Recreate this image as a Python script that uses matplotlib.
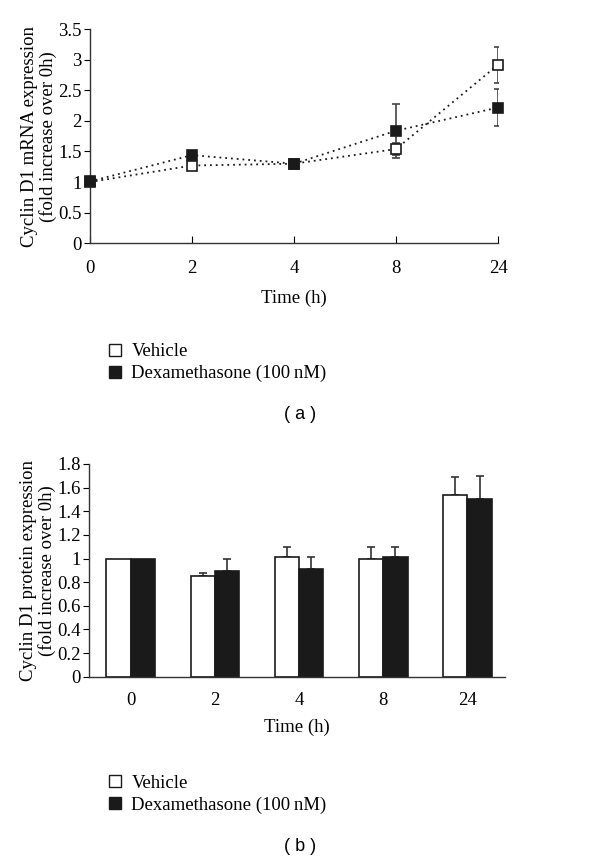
import numpy as np
import matplotlib
matplotlib.use("Agg")
import matplotlib.pyplot as plt
from matplotlib.lines import Line2D

# data
times = ["0", "2", "4", "8", "24"]

mrna_vehicle = [1.00, 1.27, 1.30, 1.54, 2.92]
mrna_vehicle_err = [0.0, 0.0, 0.0, 0.10, 0.30]
mrna_dex = [1.01, 1.44, 1.30, 1.84, 2.22]
mrna_dex_err = [0.0, 0.0, 0.0, 0.44, 0.30]

prot_vehicle = [1.00, 0.85, 1.01, 1.00, 1.535]
prot_vehicle_err = [0.0, 0.03, 0.09, 0.10, 0.155]
prot_dex = [1.00, 0.895, 0.915, 1.01, 1.50]
prot_dex_err = [0.0, 0.10, 0.095, 0.09, 0.20]

labels = ["Vehicle", "Dexamethasone (100\u2009nM)"]

plt.rcParams['font.family'] = ['Liberation Serif', 'DejaVu Serif']
plt.rcParams['font.size'] = 13.5

dark = '#1a1a1a'
fig = plt.figure(figsize=(6, 8.65), dpi=100)

# ---- (a) line plot
ax1 = fig.add_axes([0.15, 0.719, 0.68, 0.247])
x = np.arange(len(times))
for vals, errs, face in [(mrna_vehicle, mrna_vehicle_err, 'white'),
                         (mrna_dex, mrna_dex_err, dark)]:
    ax1.plot(x, vals, linestyle=(0, (1, 2.2)), color=dark, linewidth=1.3, zorder=2)
    e = np.array(errs)
    mask = e > 0
    ax1.errorbar(x[mask], np.array(vals)[mask], yerr=e[mask], fmt='none',
                 ecolor='#444444', elinewidth=1.2, capsize=3, capthick=1.2, zorder=3)
    ax1.plot(x, vals, linestyle='none', marker='s', markersize=7.5,
             markerfacecolor=face, markeredgecolor=dark, markeredgewidth=1.2,
             zorder=4, clip_on=False)

ax1.set_xlim(0, 4)
ax1.set_ylim(0, 3.5)
ax1.set_xticks(x)
ax1.set_xticklabels(times)
ax1.set_yticks(np.arange(0, 3.51, 0.5))
ax1.set_yticklabels(['0', '0.5', '1', '1.5', '2', '2.5', '3', '3.5'])
ax1.tick_params(axis='x', direction='in', length=5, pad=12)
ax1.tick_params(axis='y', direction='out', length=4, pad=2)
for s in ['top', 'right']:
    ax1.spines[s].set_visible(False)
for s in ['left', 'bottom']:
    ax1.spines[s].set_color('#333333')
    ax1.spines[s].set_linewidth(1.0)
ax1.set_xlabel('Time (h)', labelpad=9)
ax1.set_ylabel('Cyclin D1 mRNA expression\n(fold increase over 0h)', labelpad=1,
               linespacing=1.05)

handles = [Line2D([], [], linestyle='none', marker='s', markersize=8,
                  markerfacecolor='white', markeredgecolor=dark, markeredgewidth=1.0),
           Line2D([], [], linestyle='none', marker='s', markersize=8,
                  markerfacecolor=dark, markeredgecolor=dark, markeredgewidth=1.0)]
fig.legend(handles, labels, loc='upper left', bbox_to_anchor=(0.166, 0.612),
           frameon=False, handlelength=0.8, handletextpad=0.5, labelspacing=0.25,
           borderaxespad=0)
fig.text(0.5, 0.521, '( a )', ha='center', va='center', fontsize=13,
         family=['Liberation Sans', 'DejaVu Sans'])

# ---- (b) bar plot
ax2 = fig.add_axes([0.148, 0.2177, 0.694, 0.2459])
w = 0.29
ax2.bar(x - w / 2, prot_vehicle, width=w, color='white', edgecolor=dark,
        linewidth=1.2, zorder=2)
ax2.bar(x + w / 2, prot_dex, width=w, color=dark, edgecolor=dark,
        linewidth=1.2, zorder=2)
for off, vals, errs in [(-w / 2, prot_vehicle, prot_vehicle_err),
                        (w / 2, prot_dex, prot_dex_err)]:
    e = np.array(errs)
    mask = e > 0
    ax2.errorbar(x[mask] + off, np.array(vals)[mask],
                 yerr=[np.zeros(mask.sum()), e[mask]], fmt='none',
                 ecolor='#333333', elinewidth=1.2, capsize=3, capthick=1.2, zorder=1)

ax2.set_xlim(-0.5, 4.45)
ax2.set_ylim(0, 1.8)
ax2.set_xticks(x)
ax2.set_xticklabels(times)
ax2.set_yticks(np.arange(0, 1.81, 0.2))
ax2.set_yticklabels(['0', '0.2', '0.4', '0.6', '0.8', '1', '1.2', '1.4', '1.6', '1.8'])
ax2.tick_params(axis='x', length=0, pad=11)
ax2.tick_params(axis='y', direction='out', length=4, pad=2)
for s in ['top', 'right']:
    ax2.spines[s].set_visible(False)
for s in ['left', 'bottom']:
    ax2.spines[s].set_color('#333333')
    ax2.spines[s].set_linewidth(1.0)
ax2.set_xlabel('Time (h)', labelpad=7)
ax2.set_ylabel('Cyclin D1 protein expression\n(fold increase over 0h)', labelpad=1,
               linespacing=1.05)

fig.legend(handles, labels, loc='upper left', bbox_to_anchor=(0.166, 0.113),
           frameon=False, handlelength=0.8, handletextpad=0.5, labelspacing=0.25,
           borderaxespad=0)
fig.text(0.5, 0.021, '( b )', ha='center', va='center', fontsize=13,
         family=['Liberation Sans', 'DejaVu Sans'])

fig.savefig('out.png', dpi=100)
